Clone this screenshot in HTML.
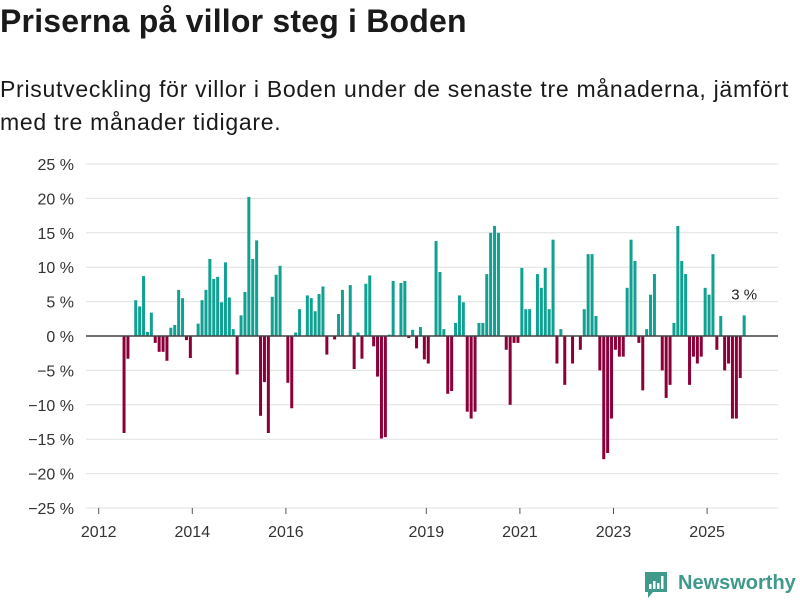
<!DOCTYPE html>
<html><head><meta charset="utf-8">
<style>
body{margin:0;background:#fff;width:800px;height:600px;overflow:hidden;font-family:"Liberation Sans","DejaVu Sans",sans-serif;color:#1a1a1a}
#title{position:absolute;left:0;top:3px;font-size:32px;font-weight:bold;margin:0;letter-spacing:0.2px}
#sub{position:absolute;left:0;top:73px;font-size:23px;letter-spacing:0.72px;line-height:33px;width:800px;white-space:nowrap}
svg{position:absolute;left:0;top:0}
</style></head><body>
<h1 id="title">Priserna på villor steg i Boden</h1>
<div id="sub">Prisutveckling för villor i Boden under de senaste tre månaderna, jämfört<br>med tre månader tidigare.</div>
<svg id="chart" width="800" height="600"></svg>
<script>
const monthIdx=[6,7,9,10,11,12,13,14,15,16,17,18,19,20,21,22,23,25,26,27,28,29,30,31,32,33,34,35,36,37,38,39,40,41,42,43,44,45,46,48,49,50,51,53,54,55,56,57,58,60,61,62,64,65,66,67,68,69,70,71,72,73,74,75,77,78,79,80,81,82,83,84,86,87,88,89,90,91,92,93,94,95,96,97,98,99,100,101,102,104,105,106,107,108,109,110,112,113,114,115,116,117,118,119,121,123,124,125,126,127,128,129,130,131,132,133,134,135,136,137,138,139,140,141,142,144,145,146,147,148,149,150,151,152,153,154,155,156,157,158,159,160,161,162,163,164,165];
const values=[-14.1,-3.3,5.2,4.3,8.7,0.6,3.4,-1.0,-2.3,-2.3,-3.6,1.2,1.6,6.7,5.5,-0.6,-3.2,1.8,5.2,6.7,11.2,8.3,8.6,4.9,10.7,5.6,1.0,-5.6,3.0,6.4,20.2,11.2,13.9,-11.6,-6.7,-14.1,5.7,8.9,10.2,-6.8,-10.5,0.5,3.9,5.9,5.5,3.6,6.1,7.2,-2.7,-0.5,3.2,6.7,7.4,-4.8,0.5,-3.3,7.6,8.8,-1.5,-5.9,-14.9,-14.7,0.2,8.0,7.7,8.0,-0.3,0.9,-1.8,1.3,-3.4,-4.0,13.8,9.3,1.0,-8.4,-8.0,1.9,5.9,4.9,-11.0,-12.0,-11.0,1.9,1.9,9.0,15.0,16.0,15.0,-2.0,-10.0,-1.0,-1.0,9.9,3.9,3.9,9.0,7.0,9.9,3.9,14.0,-4.0,1.0,-7.1,-4.0,-2.0,3.9,11.9,11.9,2.9,-5.0,-17.9,-17.0,-12.0,-2.0,-3.0,-3.0,7.0,14.0,10.9,-1.0,-7.9,1.0,6.0,9.0,-5.0,-9.0,-7.1,1.9,16.0,10.9,9.0,-7.1,-3.0,-4.0,-3.0,7.0,6.0,11.9,-2.0,2.9,-5.0,-4.0,-12.0,-12.0,-6.1,3.0];
const yTicks=[25,20,15,10,5,0,-5,-10,-15,-20,-25];
const xTickYears=[2012,2014,2016,2019,2021,2023,2025];
const NS='http://www.w3.org/2000/svg';
const svg=document.getElementById('chart');
const y=v=>336-v*6.88;
const xm=m=>98.7+m*3.9;
function mk(t,a,p){const e=document.createElementNS(NS,t);for(const k in a)e.setAttribute(k,a[k]);(p||svg).appendChild(e);return e;}
yTicks.forEach(v=>{
  const g=mk('line',{x1:86,x2:778,y1:y(v),y2:y(v),stroke:'#e0e0e0','stroke-width':1});
  
  
  const t=mk('text',{x:74,y:y(v)+6,'text-anchor':'end','font-size':16,fill:'#333','font-family':'Liberation Sans, sans-serif'});
  t.textContent=(v<0?'\u2212'+(-v):v)+' %';
  
  
});
monthIdx.forEach((m,i)=>{
  const v=values[i];
  const cx=xm(m+0.5);
  const r=mk('rect',{x:cx-1.5,width:3,y:Math.min(y(v),y(0)),height:Math.abs(y(v)-y(0)),fill:v>=0?'#10a193':'#8c0039'});
  
  
});
const z=mk('line',{x1:86,x2:778,y1:y(0),y2:y(0),stroke:'#444','stroke-width':1.5});


xTickYears.forEach(yr=>{
  const x=xm((yr-2012)*12);
  const tk=mk('line',{x1:x,x2:x,y1:508,y2:514,stroke:'#555','stroke-width':1});
  
  
  const t=mk('text',{x:x,y:537,'text-anchor':'middle','font-size':16,fill:'#333','font-family':'Liberation Sans, sans-serif'});
  t.textContent=yr;
  
  
});
const last=monthIdx.length-1;
const lbl=mk('text',{x:xm(monthIdx[last]+0.5),y:y(values[last])-16,'text-anchor':'middle','font-size':15,fill:'#222','font-family':'Liberation Sans, sans-serif'});
lbl.textContent=Math.round(values[last])+' %';


const lg=mk('g',{});


mk('path',{d:'M645 572 h22 v20 h-14 l-5 6 v-6 h-3 z',fill:'#3f9a8c'},lg);
mk('rect',{x:649,y:584,width:2.5,height:5,fill:'#fff'},lg);
mk('rect',{x:653,y:581,width:2.5,height:8,fill:'#fff'},lg);
mk('rect',{x:657,y:583,width:2.5,height:6,fill:'#fff'},lg);
mk('rect',{x:661,y:576,width:2.5,height:13,fill:'#fff'},lg);
const lt=mk('text',{x:678,y:589,'font-size':20,'font-weight':'bold',fill:'#3f9a8c','font-family':'Liberation Sans, sans-serif'},lg);
lt.textContent='Newsworthy';
</script>
</body></html>
